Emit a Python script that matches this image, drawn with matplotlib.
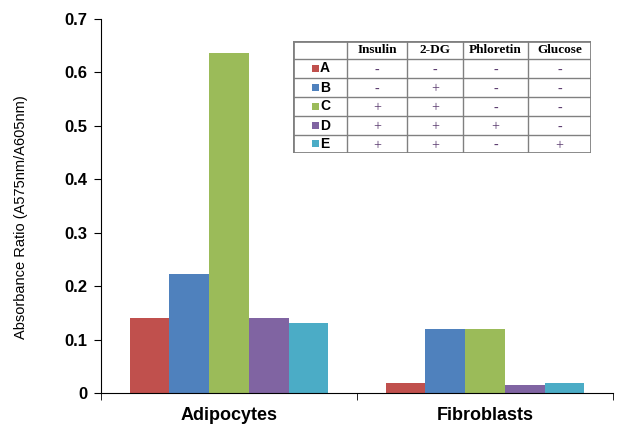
import numpy as np
import matplotlib.pyplot as plt
from matplotlib.patches import Rectangle

groups = ["Adipocytes", "Fibroblasts"]
conditions = ["A", "B", "C", "D", "E"]
values = {
    "A": [0.140, 0.019],
    "B": [0.222, 0.120],
    "C": [0.636, 0.120],
    "D": [0.140, 0.015],
    "E": [0.131, 0.019],
}
colors = ["#C0504D", "#4F81BD", "#9BBB59", "#8064A2", "#4BACC6"]

treatments = ["Insulin", "2-DG", "Phloretin", "Glucose"]
signs = [
    ["-", "-", "-", "-"],
    ["-", "+", "-", "-"],
    ["+", "+", "-", "-"],
    ["+", "+", "+", "-"],
    ["+", "+", "-", "+"],
]

plt.rcParams["font.family"] = ["Liberation Sans", "DejaVu Sans"]

fig = plt.figure(figsize=(6.4, 4.36), dpi=100)
ax = fig.add_axes([101 / 640, 43 / 436, 512 / 640, 374 / 436])

w = 0.155
x = np.arange(len(groups))
for i, (c, col) in enumerate(zip(conditions, colors)):
    ax.bar(x - 2 * w + i * w, values[c], width=w, color=col, label=c)

ax.set_xlim(-0.5, 1.5)
ax.set_ylim(0, 0.7)
ax.set_yticks(np.arange(0, 0.71, 0.1))
ax.set_yticklabels(["0", "0.1", "0.2", "0.3", "0.4", "0.5", "0.6", "0.7"],
                   fontsize=12, fontweight="bold")
ax.set_xticks(x)
ax.set_xticklabels(groups, fontsize=13, fontweight="bold")
ax.tick_params(axis="x", length=0, pad=10)
ax.set_xticks([-0.5, 0.5, 1.5], minor=True)
ax.tick_params(axis="x", which="minor", length=5, direction="out")
ax.tick_params(axis="y", length=5, direction="out", pad=5)
ax.spines["top"].set_visible(False)
ax.spines["right"].set_visible(False)
ax.set_ylabel("Absorbance Ratio (A575nm/A605nm)", fontsize=10.5)
ax.yaxis.set_label_coords(-0.142, 0.47)

# treatment table
tx0, tx1 = 293, 591
ty0, ty1 = 41, 153
tab = fig.add_axes([tx0 / 640, (436 - ty1) / 436, (tx1 - tx0) / 640, (ty1 - ty0) / 436])
tab.set_xlim(tx0, tx1)
tab.set_ylim(ty1, ty0)
tab.axis("off")
tab.add_patch(Rectangle((tx0, ty0), tx1 - tx0, ty1 - ty0, facecolor="white",
                        edgecolor="#808080", linewidth=2))
col_edges = [293, 347, 407, 463, 528, 591]
row_edges = [41, 59, 78, 97, 116, 135, 153]
for cx in col_edges[1:-1]:
    tab.plot([cx, cx], [ty0, ty1], color="#808080", linewidth=1)
for ry in row_edges[1:-1]:
    tab.plot([tx0, tx1], [ry, ry], color="#808080", linewidth=1)

for j, t in enumerate(treatments):
    tab.text((col_edges[j + 1] + col_edges[j + 2]) / 2, (row_edges[0] + row_edges[1]) / 2, t,
             ha="center", va="center", fontsize=9.5, fontweight="bold",
             family=["Liberation Serif", "DejaVu Serif"])

for i, (c, col) in enumerate(zip(conditions, colors)):
    yc = (row_edges[i + 1] + row_edges[i + 2]) / 2
    tab.add_patch(Rectangle((312, yc - 3.5), 7, 7, facecolor=col, edgecolor="none"))
    tab.text(320, yc, c, ha="left", va="center", fontsize=10, fontweight="bold")
    for j, s in enumerate(signs[i]):
        tab.text((col_edges[j + 1] + col_edges[j + 2]) / 2, yc + 1.5, s,
                 ha="center", va="center", fontsize=10, color="#5A3A6E",
                 family=["Liberation Serif", "DejaVu Serif"])

fig.savefig("out.png", dpi=100)
